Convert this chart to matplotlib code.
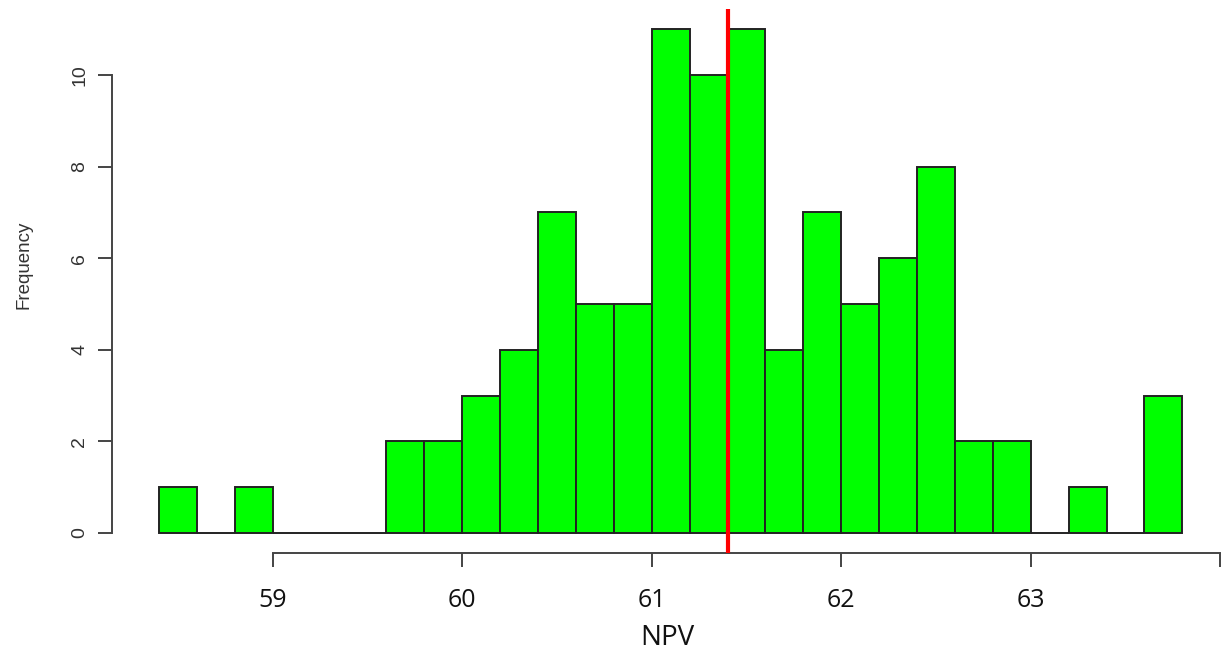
import numpy as np
import matplotlib.pyplot as plt

# Histogram bins (width 0.2) and their counts
bin_left = np.round(np.arange(58.4, 63.8, 0.2), 1)
counts = [1, 0, 1, 0, 0, 0, 2, 2, 3, 4, 7, 5, 5, 11, 10, 11,
          4, 7, 5, 6, 8, 2, 2, 0, 1, 0, 3]
bin_width = 0.2
npv_mean = 61.40

x_ticks = [59, 60, 61, 62, 63, 64]
x_labels = ['59', '60', '61', '62', '63', '']
y_ticks = [0, 2, 4, 6, 8, 10]

fig = plt.figure(figsize=(12.22, 6.53), dpi=100)
ax = fig.add_axes([112 / 1222, 100 / 653, 1110 / 1222, 544 / 653])

ax.bar(bin_left, counts, width=bin_width, align='edge',
       color='#00ff00', edgecolor='#222222', linewidth=1.4, zorder=2)
ax.axvline(npv_mean, color='#ff0000', linewidth=3, zorder=3)

ax.set_xlim(58.152, 64.009)
ax.set_ylim(-0.437, 11.44)

for side in ['top', 'right']:
    ax.spines[side].set_visible(False)
ax.spines['left'].set_bounds(0, 10)
ax.spines['bottom'].set_bounds(59, 64)
for side in ['left', 'bottom']:
    ax.spines[side].set_color('#444444')
    ax.spines[side].set_linewidth(1.4)

ax.set_yticks(y_ticks)
ax.set_yticklabels([str(v) for v in y_ticks], rotation=90, va='center',
                   fontsize=14, family='Liberation Sans', color='#333333')
ax.set_xticks(x_ticks)
ax.set_xticklabels(x_labels, fontsize=18, family='Open Sans', color='#111111')
ax.tick_params(axis='both', length=10, width=1.4, color='#444444')
ax.tick_params(axis='y', pad=7)
ax.tick_params(axis='x', pad=15)

ax.set_ylabel('Frequency', fontsize=13.5, family='Liberation Sans',
              color='#333333')
ax.yaxis.set_label_coords(-0.072, 0.529)
ax.set_xlabel('NPV', fontsize=20, family='Open Sans', color='#111111',
              labelpad=8)

fig.savefig('out.png', dpi=100)
